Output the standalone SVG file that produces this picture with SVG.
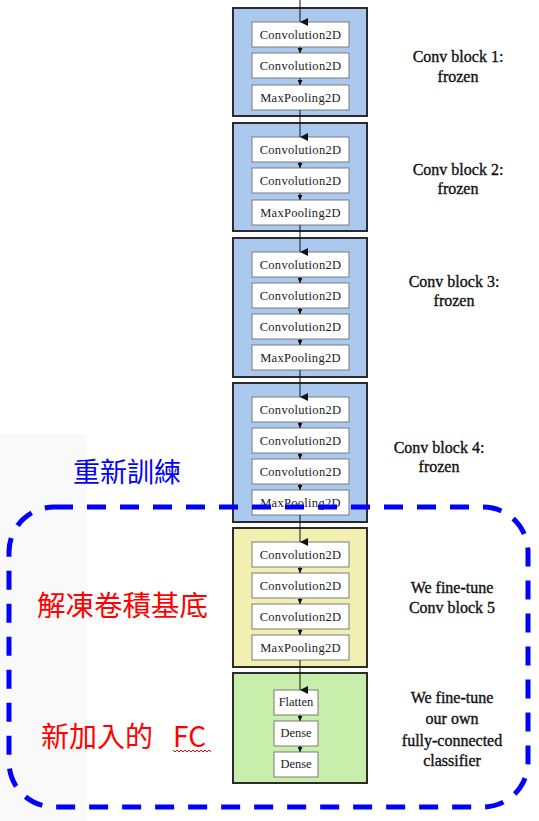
<svg xmlns="http://www.w3.org/2000/svg" width="539" height="821" viewBox="0 0 539 821">
<style>
.blk{stroke:#2b2b2b;stroke-width:2}
.blue{fill:#abc9ef}
.yel{fill:#f2f0b1}
.grn{fill:#c7efab}
.box{fill:#ffffff;stroke:#7a7a7a;stroke-width:1}
.bt{font-family:"Liberation Serif","DejaVu Serif",serif;font-size:12.5px;fill:#222;text-anchor:middle;letter-spacing:0.3px}
.lbl{font-family:"Liberation Serif","DejaVu Serif",serif;font-size:16px;fill:#111;stroke:#111;stroke-width:0.35;text-anchor:middle}
.cjk{font-family:"Noto Sans CJK TC","Noto Sans CJK SC",sans-serif;font-size:27px}
.ln{stroke:#111;stroke-width:1;fill:none}
</style>
<defs>
<marker id="big" markerUnits="userSpaceOnUse" markerWidth="8" markerHeight="8" refX="4" refY="8" orient="auto-start-reverse" viewBox="0 0 8 8">
<path d="M0,0 L8,0 L4,8 Z" fill="#111"/>
</marker>
<marker id="sm" markerUnits="userSpaceOnUse" markerWidth="5" markerHeight="5" refX="2.5" refY="5" viewBox="0 0 5 5">
<path d="M0,0 L5,0 L2.5,5 Z" fill="#111"/>
</marker>
</defs>
<rect x="0" y="0" width="539" height="821" fill="#ffffff"/>
<rect x="0" y="434" width="87" height="387" fill="#f9f9f9"/>

<g id="block1">
<rect class="blk blue" x="233" y="8" width="134" height="108"/>
<rect class="box" x="252" y="22" width="97" height="25"/><text class="bt" x="300.5" y="39">Convolution2D</text>
<rect class="box" x="252" y="53" width="97" height="25"/><text class="bt" x="300.5" y="70">Convolution2D</text>
<rect class="box" x="252" y="85" width="97" height="25"/><text class="bt" x="300.5" y="102">MaxPooling2D</text>
</g>
<g id="block2">
<rect class="blk blue" x="233" y="123" width="134" height="108"/>
<rect class="box" x="252" y="137" width="97" height="25"/><text class="bt" x="300.5" y="154">Convolution2D</text>
<rect class="box" x="252" y="168" width="97" height="25"/><text class="bt" x="300.5" y="185">Convolution2D</text>
<rect class="box" x="252" y="200" width="97" height="25"/><text class="bt" x="300.5" y="217">MaxPooling2D</text>
</g>
<g id="block3">
<rect class="blk blue" x="233" y="238" width="134" height="139"/>
<rect class="box" x="252" y="252" width="97" height="25"/><text class="bt" x="300.5" y="269">Convolution2D</text>
<rect class="box" x="252" y="283" width="97" height="25"/><text class="bt" x="300.5" y="300">Convolution2D</text>
<rect class="box" x="252" y="314" width="97" height="25"/><text class="bt" x="300.5" y="331">Convolution2D</text>
<rect class="box" x="252" y="345" width="97" height="25"/><text class="bt" x="300.5" y="362">MaxPooling2D</text>
</g>
<g id="block4">
<rect class="blk blue" x="233" y="383" width="134" height="139"/>
<rect class="box" x="252" y="397" width="97" height="25"/><text class="bt" x="300.5" y="414">Convolution2D</text>
<rect class="box" x="252" y="428" width="97" height="25"/><text class="bt" x="300.5" y="445">Convolution2D</text>
<rect class="box" x="252" y="459" width="97" height="25"/><text class="bt" x="300.5" y="476">Convolution2D</text>
<rect class="box" x="252" y="490" width="97" height="25"/><text class="bt" x="300.5" y="507">MaxPooling2D</text>
</g>
<g id="block5">
<rect class="blk yel" x="233" y="528" width="134" height="139"/>
<rect class="box" x="252" y="542" width="97" height="25"/><text class="bt" x="300.5" y="559">Convolution2D</text>
<rect class="box" x="252" y="573" width="97" height="25"/><text class="bt" x="300.5" y="590">Convolution2D</text>
<rect class="box" x="252" y="604" width="97" height="25"/><text class="bt" x="300.5" y="621">Convolution2D</text>
<rect class="box" x="252" y="635" width="97" height="25"/><text class="bt" x="300.5" y="652">MaxPooling2D</text>
</g>
<g id="block6">
<rect class="blk grn" x="233" y="673" width="134" height="110"/>
<rect class="box" x="274" y="690" width="44" height="25"/><text class="bt" x="296" y="706" style="letter-spacing:0">Flatten</text>
<rect class="box" x="274" y="721" width="44" height="25"/><text class="bt" x="296" y="737" style="letter-spacing:0">Dense</text>
<rect class="box" x="274" y="752" width="44" height="25"/><text class="bt" x="296" y="768" style="letter-spacing:0">Dense</text>
</g>

<g id="connectors">
<line class="ln" x1="300" y1="0" x2="300" y2="22" marker-end="url(#big)"/>
<line class="ln" x1="300" y1="47" x2="300" y2="53" marker-end="url(#sm)"/>
<line class="ln" x1="300" y1="78" x2="300" y2="85" marker-end="url(#sm)"/>
<line class="ln" x1="300" y1="110" x2="300" y2="137" marker-end="url(#big)"/>
<line class="ln" x1="300" y1="162" x2="300" y2="168" marker-end="url(#sm)"/>
<line class="ln" x1="300" y1="193" x2="300" y2="200" marker-end="url(#sm)"/>
<line class="ln" x1="300" y1="225" x2="300" y2="252" marker-end="url(#big)"/>
<line class="ln" x1="300" y1="277" x2="300" y2="283" marker-end="url(#sm)"/>
<line class="ln" x1="300" y1="308" x2="300" y2="314" marker-end="url(#sm)"/>
<line class="ln" x1="300" y1="339" x2="300" y2="345" marker-end="url(#sm)"/>
<line class="ln" x1="300" y1="370" x2="300" y2="397" marker-end="url(#big)"/>
<line class="ln" x1="300" y1="422" x2="300" y2="428" marker-end="url(#sm)"/>
<line class="ln" x1="300" y1="453" x2="300" y2="459" marker-end="url(#sm)"/>
<line class="ln" x1="300" y1="484" x2="300" y2="490" marker-end="url(#sm)"/>
<line class="ln" x1="300" y1="515" x2="300" y2="542" marker-end="url(#big)"/>
<line class="ln" x1="300" y1="567" x2="300" y2="573" marker-end="url(#sm)"/>
<line class="ln" x1="300" y1="598" x2="300" y2="604" marker-end="url(#sm)"/>
<line class="ln" x1="300" y1="629" x2="300" y2="635" marker-end="url(#sm)"/>
<line class="ln" x1="300" y1="660" x2="300" y2="690" marker-end="url(#big)"/>
<line class="ln" x1="300" y1="715" x2="300" y2="721" marker-end="url(#sm)"/>
<line class="ln" x1="300" y1="746" x2="300" y2="752" marker-end="url(#sm)"/>
</g>

<g id="labels">
<text class="lbl" x="458" y="62">Conv block 1:</text>
<text class="lbl" x="458" y="82">frozen</text>
<text class="lbl" x="458" y="175">Conv block 2:</text>
<text class="lbl" x="458" y="194">frozen</text>
<text class="lbl" x="454" y="287">Conv block 3:</text>
<text class="lbl" x="454" y="306">frozen</text>
<text class="lbl" x="439" y="453">Conv block 4:</text>
<text class="lbl" x="439" y="472">frozen</text>
<text class="lbl" x="452" y="593">We fine-tune</text>
<text class="lbl" x="452" y="613">Conv block 5</text>
<text class="lbl" x="452" y="703">We fine-tune</text>
<text class="lbl" x="452" y="724">our own</text>
<text class="lbl" x="452" y="746">fully-connected</text>
<text class="lbl" x="452" y="766">classifier</text>
</g>

<g id="region">
<rect x="9" y="507" width="519" height="300" rx="45" ry="45" fill="none" stroke="#0000ff" stroke-width="5" stroke-dasharray="19 14"/>
<text class="cjk" x="73" y="482" fill="#0000ff">重新訓練</text>
<text class="cjk" x="37" y="616" fill="#ff0000" style="font-size:28.5px">解凍卷積基底</text>
<text class="cjk" x="41" y="747" fill="#ff0000" style="font-size:28px">新加入的<tspan x="173">FC</tspan></text>
<path d="M173,750 l2,2 l2,-2 l2,2 l2,-2 l2,2 l2,-2 l2,2 l2,-2 l2,2 l2,-2 l2,2 l2,-2 l2,2 l2,-2 l2,2 l2,-2 l2,2 l2,-2 l2,2" fill="none" stroke="#ff0000" stroke-width="1"/>
</g>
</svg>
